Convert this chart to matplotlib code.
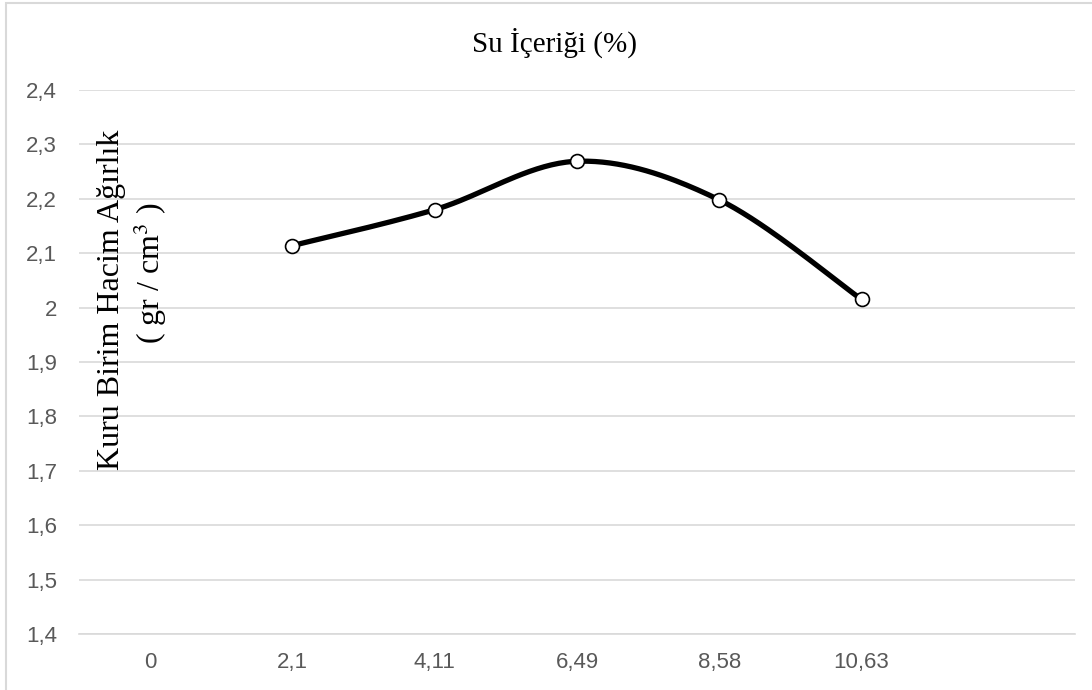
import numpy as np
import matplotlib
matplotlib.use('Agg')
import matplotlib.pyplot as plt
from matplotlib.patches import Rectangle

# category labels (last category is empty, as in the Excel chart)
categories = ['0', '2,1', '4,11', '6,49', '8,58', '10,63', '']
# dry unit weight values at categories 1..5
point_idx = [1, 2, 3, 4, 5]
values = [2.114, 2.180, 2.269, 2.198, 2.015]
yticks = [1.4, 1.5, 1.6, 1.7, 1.8, 1.9, 2.0, 2.1, 2.2, 2.3, 2.4]
ytick_labels = ['1,4', '1,5', '1,6', '1,7', '1,8', '1,9', '2', '2,1', '2,2', '2,3', '2,4']


def smooth(xs, ys, n=40):
    # Catmull-Rom style bezier, similar to Excel's "smoothed line"
    pts = np.column_stack([xs, ys]).astype(float)
    out = []
    for i in range(len(pts) - 1):
        p0 = pts[max(i - 1, 0)]
        p1 = pts[i]
        p2 = pts[i + 1]
        p3 = pts[min(i + 2, len(pts) - 1)]
        c1 = p1 + (p2 - p0) / 6
        c2 = p2 - (p3 - p1) / 6
        t = np.linspace(0, 1, n)[:, None]
        seg = ((1 - t) ** 3) * p1 + 3 * ((1 - t) ** 2) * t * c1 + 3 * (1 - t) * t ** 2 * c2 + t ** 3 * p2
        out.append(seg if i == 0 else seg[1:])
    out = np.vstack(out)
    return out[:, 0], out[:, 1]


W, H = 1092, 690
fig = plt.figure(figsize=(W / 100, H / 100), dpi=100)
ax = fig.add_axes([79 / W, (H - 634) / H, (1075 - 79) / W, (634 - 90) / H])

gray = '#595959'
grid = '#d9d9d9'

sx, sy = smooth(point_idx, values)
ax.plot(sx, sy, color='black', lw=3.8, solid_capstyle='round', zorder=3)
ax.plot(point_idx, values, 'o', ms=10, mfc='white', mec='black', mew=1.2, zorder=4)

ax.set_xlim(-0.5, len(categories) - 0.5)
ax.set_ylim(1.4, 2.4)
ax.set_xticks(range(len(categories)))
ax.set_xticklabels(categories)
ax.set_yticks(yticks)
ax.set_yticklabels(ytick_labels)
ax.tick_params(length=0, colors=gray, labelsize=16)
ax.tick_params(axis='x', pad=13)
ax.tick_params(axis='y', pad=16)
for lab in ax.get_xticklabels() + ax.get_yticklabels():
    lab.set_fontfamily('Liberation Sans')
ax.grid(axis='y', color=grid, lw=1.2)
ax.set_axisbelow(True)
for s in ['top', 'right', 'left']:
    ax.spines[s].set_visible(False)
ax.spines['bottom'].set_color(grid)
ax.spines['bottom'].set_linewidth(1.2)

# chart border (cropped at right/bottom)
fig.patches.append(Rectangle((6 / W, -0.1), 1.2, (H - 3) / H + 0.1, transform=fig.transFigure,
                             fill=False, edgecolor=grid, lw=1.5))

fig.text(555 / W, 1 - 43 / H, 'Su İçeriği (%)', family='Liberation Serif', fontsize=21,
         ha='center', va='center', color='black')
fig.text(112 / W, 1 - 300 / H, 'Kuru Birim Hacim Ağırlık', family='Liberation Serif', fontsize=23,
         rotation=90, ha='center', va='center', color='black')
fig.text(150 / W, 1 - 273 / H, r'( gr / cm$^3$ )', family='Liberation Serif', fontsize=23,
         rotation=90, ha='center', va='center', color='black', math_fontfamily='stix')

fig.savefig('out.png', dpi=100)
